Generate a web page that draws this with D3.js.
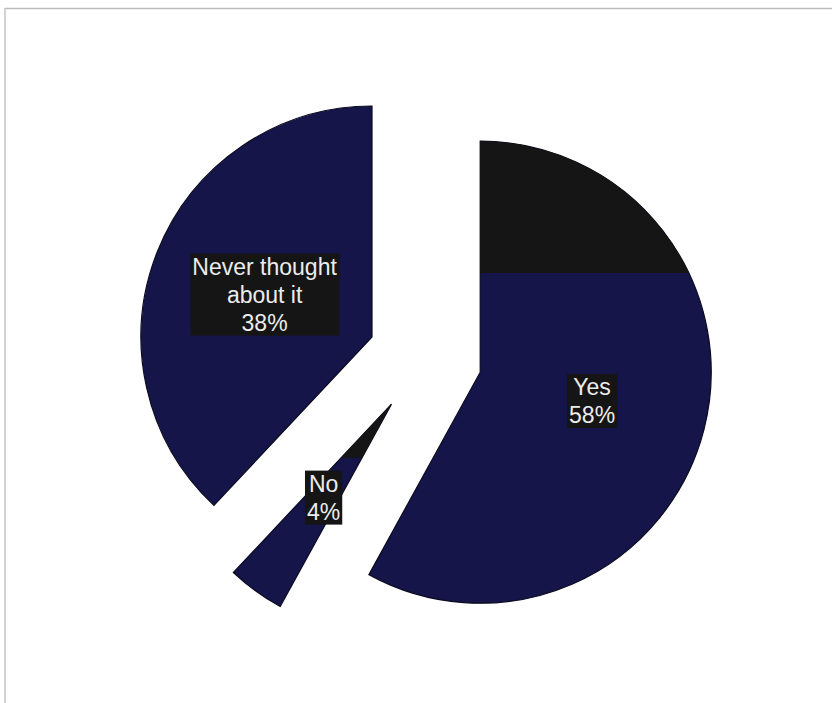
<!DOCTYPE html>
<html>
<head>
<meta charset="utf-8">
<script src="https://cdn.jsdelivr.net/npm/d3@7/dist/d3.min.js"></script>
<style>
  html, body { margin: 0; padding: 0; background: #ffffff; }
  svg { display: block; }
</style>
</head>
<body>
<svg id="chart" width="832" height="703"></svg>
<script>
// ---- data ----
const categories = ["Yes", "No", "Never thought about it"];
const values = [58, 4, 38];
const labelLines = [["Yes", "58%"], ["No", "4%"], ["Never thought", "about it", "38%"]];

// ---- layout / style ----
const W = 832, H = 703;
const cx = 425, cy = 358;
const radius = 231;
const explode = 57;
const navy = "#15154a";
const dark = "#151515";
// scan artefact: dark band at top of some slices (y of band bottom, null = none)
const darkBandBottom = [273, 458, null];

const svg = d3.select("#chart");

// frame
svg.append("line").attr("x1", 5).attr("x2", W).attr("y1", 8.5).attr("y2", 8.5)
  .attr("stroke", "#bdbdbd").attr("stroke-width", 1.5);
svg.append("line").attr("x1", 5).attr("x2", 5).attr("y1", 8).attr("y2", H)
  .attr("stroke", "#c4c4c4").attr("stroke-width", 1.5);

const pie = d3.pie().sort(null).value(d => d)(values);
const arc = d3.arc().innerRadius(0).outerRadius(radius);

const defs = svg.append("defs");
const g = svg.append("g").attr("transform", `translate(${cx},${cy})`);

pie.forEach((p, i) => {
  const mid = (p.startAngle + p.endAngle) / 2;
  const ox = Math.sin(mid) * explode, oy = -Math.cos(mid) * explode;
  const sg = g.append("g").attr("transform", `translate(${ox},${oy})`);
  const path = arc(p);
  sg.append("path").attr("d", path).attr("fill", navy)
    .attr("stroke", "#0a0a20").attr("stroke-width", 1.2);
  if (darkBandBottom[i] != null) {
    const id = "clip" + i;
    defs.append("clipPath").attr("id", id).append("path").attr("d", path)
      .attr("transform", `translate(${cx + ox},${cy + oy})`);
    svg.append("rect")
      .attr("x", 0).attr("y", 0).attr("width", W).attr("height", darkBandBottom[i])
      .attr("fill", dark).attr("clip-path", `url(#${id})`);
  }
});

// labels
const lineH = 28;
pie.forEach((p, i) => {
  const mid = (p.startAngle + p.endAngle) / 2;
  const ox = Math.sin(mid) * explode, oy = -Math.cos(mid) * explode;
  const [lx, ly] = arc.centroid(p);
  const x = cx + ox + lx, y = cy + oy + ly;
  const lines = labelLines[i];
  const lg = svg.append("g");
  const bg = lg.append("rect").attr("fill", dark);
  const t = lg.append("text")
    .attr("font-family", "Liberation Sans, Arial, sans-serif")
    .attr("font-size", 23)
    .attr("fill", "#ececec")
    .attr("text-anchor", "middle");
  lines.forEach((s, k) => {
    t.append("tspan").attr("x", x)
      .attr("y", y + (k - (lines.length - 1) / 2) * lineH)
      .attr("dy", "0.35em").text(s);
  });
  const bb = t.node().getBBox();
  bg.attr("x", bb.x - 2).attr("y", bb.y)
    .attr("width", bb.width + 4).attr("height", bb.height);
});
</script>
</body>
</html>
